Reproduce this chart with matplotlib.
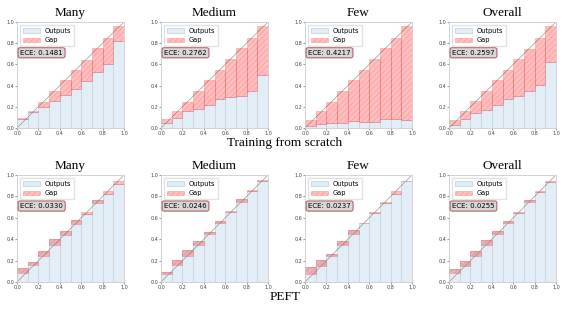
import numpy as np
from matplotlib import pyplot as plt

titles = ["Many", "Medium", "Few", "Overall"]
bins = np.arange(10) * 0.1 + 0.05

# training from scratch
scratch_conf = [
    [0.095, 0.16, 0.25, 0.35, 0.45, 0.547, 0.645, 0.75, 0.85, 0.965],
    [0.082, 0.157, 0.25, 0.345, 0.45, 0.547, 0.648, 0.75, 0.85, 0.96],
    [0.08, 0.157, 0.25, 0.345, 0.45, 0.547, 0.648, 0.75, 0.85, 0.96],
    [0.08, 0.157, 0.25, 0.35, 0.45, 0.547, 0.648, 0.75, 0.85, 0.965],
]
scratch_acc = [
    [0.085, 0.148, 0.198, 0.255, 0.31, 0.365, 0.44, 0.528, 0.607, 0.82],
    [0.047, 0.097, 0.157, 0.18, 0.217, 0.273, 0.29, 0.30, 0.346, 0.50],
    [0.02, 0.038, 0.044, 0.047, 0.066, 0.06, 0.053, 0.082, 0.082, 0.075],
    [0.031, 0.085, 0.138, 0.173, 0.217, 0.27, 0.30, 0.35, 0.405, 0.62],
]
scratch_ece = ["0.1481", "0.2762", "0.4217", "0.2597"]

# PEFT
peft_conf = [
    [0.084, 0.156, 0.244, 0.344, 0.44, 0.544, 0.656, 0.74, 0.846, 0.944],
    [0.078, 0.156, 0.247, 0.344, 0.447, 0.547, 0.66, 0.75, 0.86, 0.95],
    [0.078, 0.147, 0.247, 0.344, 0.447, 0.547, 0.656, 0.75, 0.847, 0.947],
    [0.081, 0.153, 0.247, 0.344, 0.444, 0.547, 0.653, 0.744, 0.853, 0.944],
]
peft_acc = [
    [0.13, 0.184, 0.288, 0.40, 0.478, 0.58, 0.64, 0.77, 0.82, 0.915],
    [0.097, 0.203, 0.297, 0.38, 0.466, 0.566, 0.65, 0.775, 0.847, 0.94],
    [0.14, 0.21, 0.266, 0.38, 0.484, 0.553, 0.647, 0.74, 0.82, 0.94],
    [0.125, 0.197, 0.288, 0.39, 0.475, 0.569, 0.647, 0.766, 0.838, 0.934],
]
peft_ece = ["0.0330", "0.0246", "0.0237", "0.0255"]

plt.rcParams['hatch.linewidth'] = 0.4

fig = plt.figure(figsize=(5.7, 3.12), dpi=100)
W, H = 570.0, 312.0
lefts = [17, 161, 305, 449]


def draw(ax, acc, conf, ece, title):
    acc = np.array(acc)
    conf = np.array(conf)
    ax.bar(bins, acc, width=0.1, color="#e3edf6", edgecolor="#c9d5e0",
           linewidth=0.6, label="Outputs")
    ax.bar(bins, conf - acc, bottom=acc, width=0.1, color="red", alpha=0.25,
           edgecolor="red", linewidth=0.5, hatch="//////", label="Gap")
    ax.plot([0, 1], [0, 1], color="gray", linewidth=0.5, alpha=0.8)
    ax.set_xlim(0, 1)
    ax.set_ylim(0, 1)
    ax.set_xticks(np.arange(0, 1.01, 0.2))
    ax.set_yticks(np.arange(0, 1.01, 0.2))
    ax.tick_params(labelsize=3.5, length=1.5, width=0.4, pad=0.5, colors="#444")
    for s in ax.spines.values():
        s.set_color("#cccccc")
        s.set_linewidth(0.6)
    ax.set_title(title, fontsize=9.5, family="Liberation Serif", pad=4)
    ax.legend(loc="upper left", fontsize=4.8, frameon=True, handlelength=2.6,
              handletextpad=0.6, borderpad=0.4, labelspacing=0.5,
              edgecolor="#dddddd", fancybox=False)
    ax.text(0.03, 0.71, "ECE: " + ece, transform=ax.transAxes, fontsize=5,
            va="center", ha="left",
            bbox=dict(boxstyle="round,pad=0.3", facecolor="#d8d8d8",
                      edgecolor="#b86060", linewidth=0.8))


for i in range(4):
    ax = fig.add_axes([lefts[i] / W, 1 - 128 / H, 107 / W, 106 / H])
    draw(ax, scratch_acc[i], scratch_conf[i], scratch_ece[i], titles[i])
    ax = fig.add_axes([lefts[i] / W, 1 - 282 / H, 107 / W, 107 / H])
    draw(ax, peft_acc[i], peft_conf[i], peft_ece[i], titles[i])

fig.text(0.5, 1 - 143 / H, "Training from scratch", ha="center", va="center",
         fontsize=9.5, family="Liberation Serif")
fig.text(0.5, 1 - 297 / H, "PEFT", ha="center", va="center",
         fontsize=9.5, family="Liberation Serif")

fig.savefig("out.png", dpi=100)
